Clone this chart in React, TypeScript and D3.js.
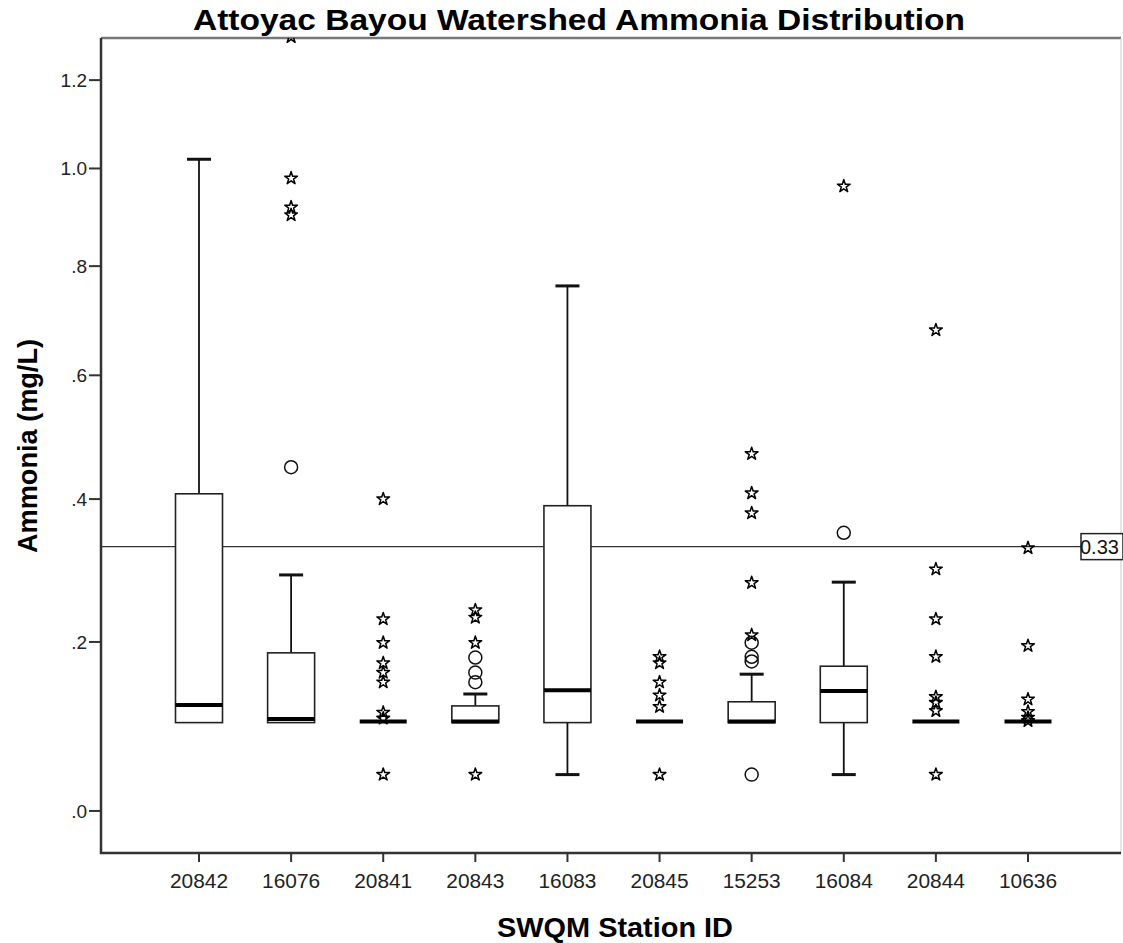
import React from "react";
import * as d3 from "d3";

const stations = ["20842", "16076", "20841", "20843", "16083", "20845", "15253", "16084", "20844", "10636"];
const whiskerLow = [0.10, 0.10, 0.10, 0.10, 0.04, 0.10, 0.10, 0.04, 0.10, 0.10];
const q1 = [0.10, 0.10, 0.10, 0.10, 0.10, 0.10, 0.10, 0.10, 0.10, 0.10];
const median = [0.12, 0.103, 0.10, 0.10, 0.138, 0.10, 0.10, 0.137, 0.10, 0.10];
const q3 = [0.408, 0.186, 0.10, 0.12, 0.39, 0.10, 0.125, 0.169, 0.10, 0.10];
const whiskerHigh = [1.02, 0.29, 0.10, 0.1345, 0.762, 0.10, 0.159, 0.28, 0.10, 0.10];

// circles (outliers) per station
const outliers: number[][] = [
  [],
  [0.449],
  [],
  [0.18, 0.161, 0.149],
  [],
  [],
  [0.199, 0.181, 0.175, 0.04],
  [0.35],
  [],
  [],
];
// stars (extremes) per station
const extremes: number[][] = [
  [],
  [1.305, 0.979, 0.918, 0.902],
  [0.40, 0.23, 0.199, 0.173, 0.161, 0.149, 0.112, 0.105, 0.04],
  [0.242, 0.232, 0.199, 0.04],
  [],
  [0.181, 0.173, 0.149, 0.133, 0.119, 0.04],
  [0.47, 0.409, 0.379, 0.279, 0.209],
  [0.962],
  [0.68, 0.298, 0.23, 0.181, 0.131, 0.124, 0.114, 0.04],
  [0.328, 0.195, 0.128, 0.113, 0.106, 0.102],
];

const yTicks = [0, 0.2, 0.4, 0.6, 0.8, 1.0, 1.2];
const yTickLabels = [".0", ".2", ".4", ".6", ".8", "1.0", "1.2"];
const refValue = 0.33;
const refLabel = "0.33";
const title = "Attoyac Bayou Watershed Ammonia Distribution";
const xTitle = "SWQM Station ID";
const yTitle = "Ammonia (mg/L)";

const W = 1123;
const H = 943;
const plot = { left: 101, right: 1121, top: 38, bottom: 853 };
const FONT = "'Liberation Sans', Arial, Helvetica, sans-serif";

export default function App() {
  const y = d3.scaleSymlog().constant(1).domain([-0.0464, 1.3023]).range([plot.bottom, plot.top]);
  const x = d3.scalePoint<string>().domain(stations).range([199, 1028]);
  const boxW = 47;
  const capW = 24;
  const starPath = d3.symbol().type(d3.symbolStar).size(50)() as string;

  return (
    <svg width={W} height={H} style={{ position: "absolute", left: 0, top: 0, background: "#fff" }}>
      <defs>
        <clipPath id="plotClip">
          <rect x={plot.left} y={plot.top} width={plot.right - plot.left} height={plot.bottom - plot.top} />
        </clipPath>
      </defs>
      <rect x={0} y={0} width={W} height={H} fill="#fff" />

      {/* title */}
      <text x={579} y={30} textAnchor="middle" fontFamily={FONT} fontWeight="bold" fontSize={30}
        textLength={772} lengthAdjust="spacingAndGlyphs" fill="#000">{title}</text>

      {/* frame */}
      <line x1={plot.left} x2={plot.right} y1={plot.top} y2={plot.top} stroke="#777" strokeWidth={2.5} />
      <line x1={plot.right} x2={plot.right} y1={plot.top} y2={plot.bottom} stroke="#ccc" strokeWidth={1} />

      {/* reference line */}
      <line x1={plot.left} x2={1081} y1={y(refValue)} y2={y(refValue)} stroke="#333" strokeWidth={1.3} />

      <g clipPath="url(#plotClip)">
        {stations.map((s, i) => {
          const cx = x(s) as number;
          const yTop = y(q3[i]);
          const yBot = y(q1[i]);
          return (
            <g key={s}>
              {whiskerHigh[i] > q3[i] && (
                <line x1={cx} x2={cx} y1={y(whiskerHigh[i])} y2={yTop} stroke="#111" strokeWidth={1.8} />
              )}
              {whiskerLow[i] < q1[i] && (
                <line x1={cx} x2={cx} y1={y(whiskerLow[i])} y2={yBot} stroke="#111" strokeWidth={1.8} />
              )}
              {whiskerHigh[i] > q3[i] && (
                <line x1={cx - capW / 2} x2={cx + capW / 2} y1={y(whiskerHigh[i])} y2={y(whiskerHigh[i])} stroke="#111" strokeWidth={3} />
              )}
              {whiskerLow[i] < q1[i] && (
                <line x1={cx - capW / 2} x2={cx + capW / 2} y1={y(whiskerLow[i])} y2={y(whiskerLow[i])} stroke="#111" strokeWidth={3} />
              )}
              <rect x={cx - boxW / 2} y={yTop} width={boxW} height={Math.max(0, yBot - yTop)}
                fill="#fff" stroke="#222" strokeWidth={1.6} />
              <line x1={cx - boxW / 2} x2={cx + boxW / 2} y1={y(median[i]) - 1} y2={y(median[i]) - 1}
                stroke="#000" strokeWidth={4} />
              {outliers[i].map((v, j) => (
                <circle key={"o" + j} cx={cx} cy={y(v)} r={6.5} fill="none" stroke="#111" strokeWidth={1.5} />
              ))}
              {extremes[i].map((v, j) => (
                <path key={"e" + j} d={starPath} transform={`translate(${cx},${y(v)})`}
                  fill="#fff" fillOpacity={0} stroke="#000" strokeWidth={1.5} strokeLinejoin="round" />
              ))}
            </g>
          );
        })}
      </g>

      {/* reference label */}
      <rect x={1081} y={y(refValue) - 13} width={42} height={26} fill="#fff" stroke="#222" strokeWidth={1.5} />
      <text x={1080} y={y(refValue) + 7} fontFamily={FONT} fontSize={20} fill="#111">{refLabel}</text>

      {/* y axis */}
      <line x1={plot.left} x2={plot.left} y1={plot.top} y2={plot.bottom + 1} stroke="#333" strokeWidth={2.5} />
      {yTicks.map((t, i) => (
        <g key={t}>
          <line x1={plot.left - 12} x2={plot.left} y1={y(t)} y2={y(t)} stroke="#333" strokeWidth={2} />
          <text x={87} y={y(t) + 7} textAnchor="end" fontFamily={FONT} fontSize={19} fill="#222">{yTickLabels[i]}</text>
        </g>
      ))}
      <text transform={`translate(37,446) rotate(-90)`} textAnchor="middle" fontFamily={FONT} fontWeight="bold"
        fontSize={27} textLength={214} lengthAdjust="spacingAndGlyphs" fill="#000">{yTitle}</text>

      {/* x axis */}
      <line x1={plot.left - 1} x2={plot.right} y1={plot.bottom} y2={plot.bottom} stroke="#333" strokeWidth={2.5} />
      {stations.map((s) => (
        <g key={s}>
          <line x1={x(s) as number} x2={x(s) as number} y1={plot.bottom} y2={plot.bottom + 9} stroke="#333" strokeWidth={2} />
          <text x={x(s) as number} y={888} textAnchor="middle" fontFamily={FONT} fontSize={20}
            textLength={58} lengthAdjust="spacingAndGlyphs" fill="#222">{s}</text>
        </g>
      ))}
      <text x={615} y={937} textAnchor="middle" fontFamily={FONT} fontWeight="bold" fontSize={28}
        textLength={236} lengthAdjust="spacingAndGlyphs" fill="#000">{xTitle}</text>
    </svg>
  );
}
